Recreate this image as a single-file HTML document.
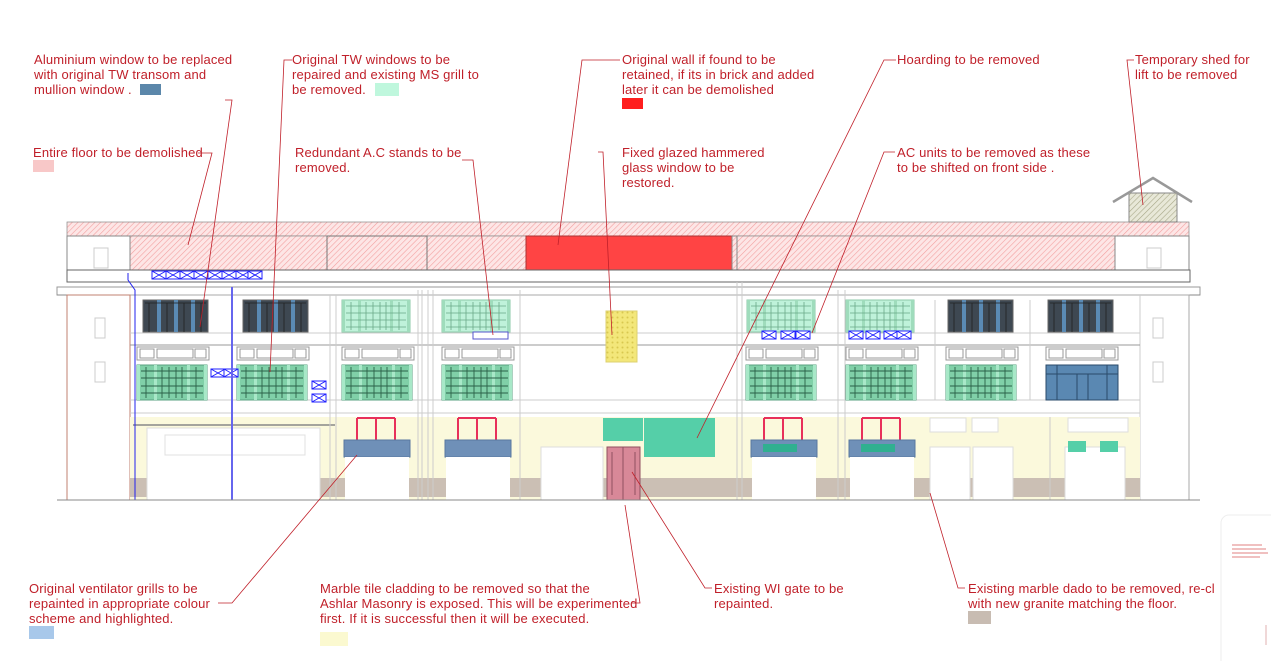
<!DOCTYPE html>
<html><head><meta charset="utf-8"><style>
html,body{margin:0;padding:0;background:#fff;}
svg{display:block;}
text{font-family:"Liberation Sans",sans-serif;font-size:13px;letter-spacing:0.15px;fill:#c0202a;}
</style></head><body>
<svg width="1271" height="661" viewBox="0 0 1271 661" xmlns="http://www.w3.org/2000/svg">
<defs>
<pattern id="hat" width="4" height="4" patternUnits="userSpaceOnUse" patternTransform="rotate(45)">
<rect width="4" height="4" fill="#fde6e6"/><line x1="0" y1="0" x2="0" y2="4" stroke="#f3a0a0" stroke-width="1.2"/></pattern>
<pattern id="hatg" width="4" height="4" patternUnits="userSpaceOnUse" patternTransform="rotate(45)">
<rect width="4" height="4" fill="#e8e8d8"/><line x1="0" y1="0" x2="0" y2="4" stroke="#a8a888" stroke-width="1.2"/></pattern>
<pattern id="dots" width="5" height="5" patternUnits="userSpaceOnUse">
<rect width="5" height="5" fill="#f3e77a"/><circle cx="2.5" cy="2.5" r="1" fill="#d8c850"/></pattern>
<g id="gu"><rect width="68" height="32" fill="#bff2da" stroke="#8cc8a8"/>
<rect x="0" y="0" width="3" height="32" fill="#9fdcbc"/><rect x="16" y="0" width="3" height="32" fill="#9fdcbc"/><rect x="48" y="0" width="3" height="32" fill="#9fdcbc"/><rect x="65" y="0" width="3" height="32" fill="#9fdcbc"/>
<path d="M4 6H64M4 13H64M4 20H64M4 27H64M9 2V30M24 2V30M31 2V30M38 2V30M44 2V30M57 2V30" stroke="#6aa888" stroke-width="0.8"/></g>
<g id="gl"><rect width="70" height="35" fill="#80d0a8" stroke="#5aa080"/>
<rect x="0" y="0" width="3" height="35" fill="#a8e8c8"/><rect x="17" y="0" width="3" height="35" fill="#a8e8c8"/><rect x="50" y="0" width="3" height="35" fill="#a8e8c8"/><rect x="67" y="0" width="3" height="35" fill="#a8e8c8"/>
<path d="M4 6H66M4 13H66M4 21H66M4 28H66M9 2V33M25 2V33M32 2V33M39 2V33M45 2V33M59 2V33" stroke="#2a6048" stroke-width="0.9"/></g>
<g id="dk"><rect width="65" height="32" fill="#3e4852" stroke="#666"/>
<rect x="14" y="0" width="4" height="32" fill="#5a8ab4"/><rect x="31" y="0" width="4" height="32" fill="#5a8ab4"/><rect x="48" y="0" width="4" height="32" fill="#5a8ab4"/>
<path d="M6 3V32M24 3V32M41 3V32M58 3V32M2 3H63" stroke="#222" stroke-width="0.8"/></g>
<g id="tr"><rect width="72" height="13" fill="#fff" stroke="#999"/><rect x="3" y="2" width="14" height="9" fill="none" stroke="#999"/><rect x="20" y="2" width="36" height="9" fill="none" stroke="#999"/><rect x="58" y="2" width="11" height="9" fill="none" stroke="#999"/></g>
<g id="vent"><path d="M13 -22V0M32 -22V0M51 -22V0M13 -22H51" stroke="#e8305a" stroke-width="2" fill="none"/><rect x="0" y="0" width="66" height="17" fill="#6f90b8" stroke="#5878a0"/></g>
<g id="ac"><rect width="14" height="8" fill="#fff" stroke="#2020ff"/><path d="M0 0L14 8M14 0L0 8" stroke="#2020ff"/></g>
</defs>

<rect x="67" y="222" width="1122" height="14" fill="url(#hat)" stroke="#888" stroke-width="0.7"/>
<rect x="130" y="236" width="985" height="34" fill="url(#hat)" stroke="#888" stroke-width="0.7"/>
<rect x="327" y="236" width="100" height="34" fill="none" stroke="#777"/>
<rect x="526" y="236" width="206" height="34" fill="#ff4444" stroke="#a33"/>
<rect x="732" y="236" width="5" height="34" fill="none" stroke="#888"/>
<rect x="67" y="236" width="63" height="34" fill="#fff" stroke="#888"/>
<rect x="94" y="248" width="14" height="20" fill="none" stroke="#ccc"/>
<rect x="1115" y="236" width="74" height="34" fill="#fff" stroke="#888"/>
<rect x="1147" y="248" width="14" height="20" fill="none" stroke="#ccc"/>
<rect x="1129" y="193" width="48" height="29" fill="url(#hatg)" stroke="#888"/>
<path d="M1113 202L1153 178L1192 202" stroke="#999" stroke-width="2.5" fill="none"/>
<rect x="67" y="270" width="1123" height="12" fill="#fff" stroke="#666"/>
<line x1="67" y1="282" x2="1190" y2="282" stroke="#666"/>
<rect x="57" y="287" width="1143" height="8" fill="#fff" stroke="#999"/>
<line x1="57" y1="295" x2="1200" y2="295" stroke="#888"/>
<rect x="67" y="295" width="1122" height="205" fill="#fff" stroke="#aaa"/>
<rect x="67" y="295" width="63" height="205" fill="#fff" stroke="#c08070"/>
<rect x="95" y="318" width="10" height="20" fill="none" stroke="#ccc"/>
<rect x="95" y="362" width="10" height="20" fill="none" stroke="#ccc"/>
<rect x="1153" y="318" width="10" height="20" fill="none" stroke="#ccc"/>
<rect x="1153" y="362" width="10" height="20" fill="none" stroke="#ccc"/>
<line x1="1140" y1="295" x2="1140" y2="500" stroke="#ccc"/>
<line x1="130" y1="333" x2="1140" y2="333" stroke="#ccc"/>
<line x1="130" y1="345" x2="1140" y2="345" stroke="#999"/>
<line x1="130" y1="400" x2="1140" y2="400" stroke="#ccc"/>
<line x1="130" y1="413" x2="1140" y2="413" stroke="#ccc"/>
<rect x="130" y="417" width="920" height="83" fill="#fbf9dc"/>
<rect x="1050" y="417" width="90" height="83" fill="#fbf9dc"/>
<rect x="130" y="478" width="1010" height="19" fill="#cbbfb4"/>
<rect x="147" y="428" width="173" height="72" fill="#fff" stroke="#ddd"/>
<rect x="165" y="435" width="140" height="20" fill="none" stroke="#e0e0e0"/>
<line x1="133" y1="425" x2="335" y2="425" stroke="#888" stroke-width="1.5"/>
<rect x="541" y="447" width="62" height="53" fill="#fff" stroke="#ddd"/>
<rect x="930" y="447" width="40" height="53" fill="#fff" stroke="#ddd"/>
<rect x="973" y="447" width="40" height="53" fill="#fff" stroke="#ddd"/>
<rect x="930" y="418" width="36" height="14" fill="#fff" stroke="#ddd"/>
<rect x="972" y="418" width="26" height="14" fill="#fff" stroke="#ddd"/>
<rect x="1065" y="447" width="60" height="53" fill="#fff" stroke="#ddd"/>
<rect x="1068" y="418" width="60" height="14" fill="#fff" stroke="#ddd"/>
<rect x="1068" y="441" width="18" height="11" fill="#55cfa8"/>
<rect x="1100" y="441" width="18" height="11" fill="#55cfa8"/>
<g stroke="#ccc" fill="none">
<path d="M330 295V500M336 295V500M418 290V500M422 290V500M428 290V500M433 290V500M520 290V500M737 282V500M742 282V500M838 290V500M845 290V500M935 300V400M1030 300V400M1050 417V500"/>
</g>
<use href="#dk" x="143" y="300"/><use href="#dk" x="243" y="300"/>
<use href="#gu" x="342" y="300"/><use href="#gu" x="442" y="300"/>
<use href="#gu" x="747" y="300"/><use href="#gu" x="846" y="300"/>
<use href="#dk" x="948" y="300"/><use href="#dk" x="1048" y="300"/>
<rect x="473" y="332" width="35" height="7" fill="#fff" stroke="#55c"/>
<rect x="606" y="311" width="31" height="51" fill="url(#dots)" stroke="#ddd070"/>
<use href="#tr" x="137" y="347"/><use href="#tr" x="237" y="347"/><use href="#tr" x="342" y="347"/><use href="#tr" x="442" y="347"/>
<use href="#tr" x="746" y="347"/><use href="#tr" x="846" y="347"/><use href="#tr" x="946" y="347"/><use href="#tr" x="1046" y="347"/>
<use href="#gl" x="137" y="365"/><use href="#gl" x="237" y="365"/><use href="#gl" x="342" y="365"/><use href="#gl" x="442" y="365"/>
<use href="#gl" x="746" y="365"/><use href="#gl" x="846" y="365"/><use href="#gl" x="946" y="365"/>
<rect x="1046" y="365" width="72" height="35" fill="#5a88b2" stroke="#2a4a6a"/>
<path d="M1057 365V400M1107 365V400M1046 374H1118M1077 374V400M1088 374V400" stroke="#2a4a6a"/>
<g><use href="#ac" x="152" y="271"/><use href="#ac" x="166" y="271"/><use href="#ac" x="180" y="271"/><use href="#ac" x="194" y="271"/><use href="#ac" x="208" y="271"/><use href="#ac" x="222" y="271"/><use href="#ac" x="236" y="271"/><use href="#ac" x="248" y="271"/>
<use href="#ac" x="211" y="369"/><use href="#ac" x="224" y="369"/>
<use href="#ac" x="312" y="381"/><use href="#ac" x="312" y="394"/>
<use href="#ac" x="762" y="331"/><use href="#ac" x="781" y="331"/><use href="#ac" x="796" y="331"/>
<use href="#ac" x="849" y="331"/><use href="#ac" x="866" y="331"/><use href="#ac" x="884" y="331"/><use href="#ac" x="897" y="331"/></g>
<path d="M128 273V280L135 290V500" stroke="#2222ee" fill="none"/>
<line x1="232" y1="287" x2="232" y2="500" stroke="#6666ee" stroke-width="2"/>
<use href="#vent" x="344" y="440"/><use href="#vent" x="445" y="440"/><use href="#vent" x="751" y="440"/><use href="#vent" x="849" y="440"/>
<rect x="345" y="457" width="64" height="43" fill="#fff"/><rect x="446" y="457" width="64" height="43" fill="#fff"/>
<rect x="752" y="457" width="64" height="43" fill="#fff"/><rect x="850" y="457" width="64" height="43" fill="#fff"/>
<rect x="763" y="444" width="34" height="8" fill="#30b090"/><rect x="861" y="444" width="34" height="8" fill="#30b090"/>
<rect x="603" y="418" width="40" height="23" fill="#55cfa8"/>
<rect x="644" y="418" width="71" height="39" fill="#55cfa8"/>
<rect x="607" y="447" width="33" height="53" fill="#d88898" stroke="#905060"/>
<path d="M623 447V500M612 452V495M635 452V495" stroke="#905060"/>
<line x1="57" y1="500" x2="1200" y2="500" stroke="#888"/>

<g stroke="#c0202a" stroke-width="0.8" fill="none">
<path d="M198 153H212L188 245"/>
<path d="M225 100H232L200 327"/>
<path d="M292 60H284L270 372"/>
<path d="M462 160H473L493 335"/>
<path d="M620 60H582L558 245"/>
<path d="M598 152H603L612 335"/>
<path d="M896 60H884L697 438"/>
<path d="M895 152H884L812 333"/>
<path d="M1134 60H1127L1143 205"/>
<path d="M218 603H232L357 455"/>
<path d="M632 603H640L625 505"/>
<path d="M712 588H705L632 472"/>
<path d="M965 588H958L930 493"/>
</g>
<text x="34" y="64">Aluminium window to be replaced</text>
<text x="34" y="79">with original TW transom and</text>
<text x="34" y="94">mullion window .</text>
<rect x="140" y="84" width="21" height="11" fill="#5b87aa"/>
<text x="292" y="64">Original TW windows to be</text>
<text x="292" y="79">repaired and existing MS grill to</text>
<text x="292" y="94">be removed.</text>
<rect x="375" y="83" width="24" height="13" fill="#bff7dd"/>
<text x="622" y="64">Original wall if found to be</text>
<text x="622" y="79">retained, if its in brick and added</text>
<text x="622" y="94">later it can be demolished</text>
<rect x="622" y="98" width="21" height="11" fill="#ff1e1e"/>
<text x="897" y="64">Hoarding to be removed</text>
<text x="1135" y="64">Temporary shed for</text>
<text x="1135" y="79">lift to be removed</text>
<text x="33" y="157">Entire floor to be demolished</text>
<rect x="33" y="160" width="21" height="12" fill="#f8c8c8"/>
<text x="295" y="157">Redundant A.C stands to be</text>
<text x="295" y="172">removed.</text>
<text x="622" y="157">Fixed glazed hammered</text>
<text x="622" y="172">glass window to be</text>
<text x="622" y="187">restored.</text>
<text x="897" y="157">AC units to be removed as these</text>
<text x="897" y="172">to be shifted on front side .</text>
<text x="29" y="593">Original ventilator grills to be</text>
<text x="29" y="608">repainted in appropriate colour</text>
<text x="29" y="623">scheme and highlighted.</text>
<rect x="29" y="626" width="25" height="13" fill="#a8c8ea"/>
<text x="320" y="593">Marble tile cladding to be removed so that the</text>
<text x="320" y="608">Ashlar Masonry is exposed. This will be experimented</text>
<text x="320" y="623">first. If it is successful then it will be executed.</text>
<rect x="320" y="632" width="28" height="14" fill="#fbf9d0"/>
<text x="714" y="593">Existing WI gate to be</text>
<text x="714" y="608">repainted.</text>
<text x="968" y="593">Existing marble dado to be removed, re-cl</text>
<text x="968" y="608">with new granite matching the floor.</text>
<rect x="968" y="611" width="23" height="13" fill="#c8bcb2"/>
<rect x="1221" y="515" width="60" height="160" rx="8" fill="#fff" stroke="#eee"/>
<path d="M1232 545H1262M1232 549H1266M1232 553H1268M1232 557H1260" stroke="#e08080" stroke-width="1"/>
<line x1="1266" y1="625" x2="1266" y2="645" stroke="#e0b0b0"/>
</svg>
</body></html>
